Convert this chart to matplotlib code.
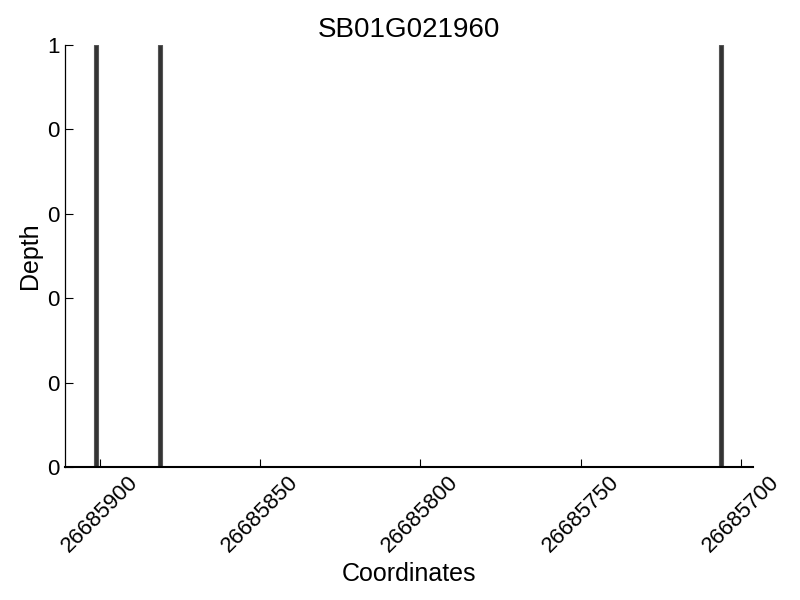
import matplotlib
matplotlib.use("Agg")
import matplotlib.pyplot as plt
from matplotlib.ticker import FormatStrFormatter

title = "SB01G021960"
positions = [26685901.2, 26685881.3, 26685706.2]
depths = [1, 1, 1]
x_ticks = [26685900, 26685850, 26685800, 26685750, 26685700]
y_ticks = [0, 0.2, 0.4, 0.6, 0.8, 1.0]

plt.rcParams["font.family"] = ["Liberation Sans", "DejaVu Sans"]

fig = plt.figure(figsize=(8, 6), dpi=100)
ax = fig.add_axes([0.081, 0.2217, 0.86, 0.7033])

ax.bar(positions, depths, width=1.3, color="#333333", edgecolor="#555555", linewidth=0.8)

ax.set_xlim(26685910.9, 26685696.3)
ax.set_ylim(0, 1)
ax.set_xticks(x_ticks)
ax.set_xticklabels([str(t) for t in x_ticks], rotation=45, fontsize=16)
ax.set_yticks(y_ticks)
ax.yaxis.set_major_formatter(FormatStrFormatter("%d"))
ax.tick_params(axis="y", labelsize=16)
ax.tick_params(direction="in", length=6, width=0.8)

ax.spines["left"].set_linewidth(0.9)
ax.spines["bottom"].set_linewidth(1.5)
ax.spines["top"].set_visible(False)
ax.spines["right"].set_visible(False)

ax.set_title(title, fontsize=20)
ax.set_xlabel("Coordinates", fontsize=18)
ax.set_ylabel("Depth", fontsize=18)

fig.savefig("out.png", dpi=100)
